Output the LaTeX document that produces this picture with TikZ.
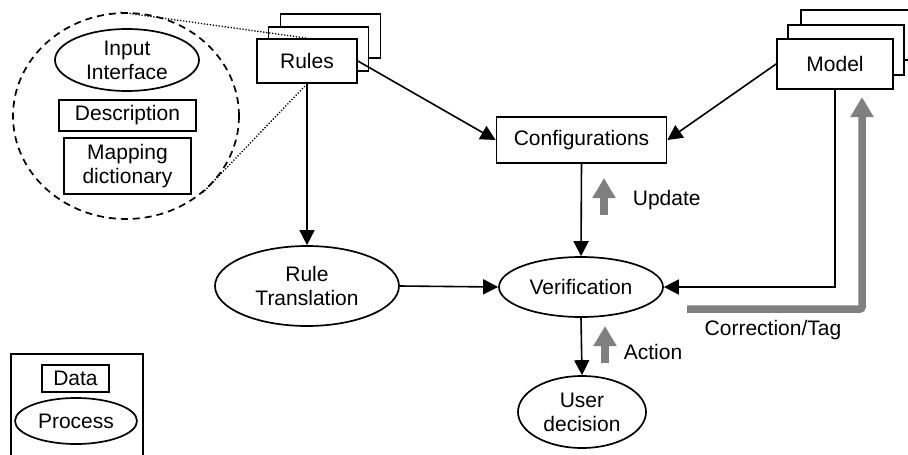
\documentclass[tikz,border=0pt]{standalone}
\usepackage{fontspec}
\setmainfont{Liberation Sans}
\usetikzlibrary{arrows.meta,shapes.geometric}

\begin{document}
\begin{tikzpicture}[x=1pt,y=-1pt,
    every node/.style={font=\fontsize{21}{24}\selectfont, align=center, inner sep=0pt, line width=1.7pt},
    data/.style={draw, fill=white, rectangle},
    proc/.style={draw, fill=white, ellipse},
    flow/.style={line width=1.6pt, -{Triangle[length=15pt,width=15pt]}},
    hint/.style={line width=7.5pt, draw=gray, -{Triangle[length=20pt,width=22pt]}}]
\useasboundingbox (0,0) rectangle (908,455);

% detail of the rules
\node[draw, ellipse, dash pattern=on 7pt off 5pt, minimum width=226pt, minimum height=206pt] (detail) at (126,116) {};
\node[proc, minimum width=144pt, minimum height=62pt] (input) at (127,60) {Input\\Interface};
\node[data, minimum width=137pt, minimum height=31pt] (desc) at (127.5,115.5) {Description};
\node[data, minimum width=127pt, minimum height=56pt] (mapdict) at (127.5,166) {Mapping\\dictionary};

% stacked data
\node[data, minimum width=100pt, minimum height=44pt] (rules3) at (330.5,36) {};
\node[data, minimum width=100pt, minimum height=44pt] (rules2) at (318.5,49) {};
\node[data, minimum width=100pt, minimum height=44pt] (rules) at (307,61) {Rules};
\node[data, minimum width=116pt, minimum height=50pt] (model3) at (859,35) {};
\node[data, minimum width=116pt, minimum height=50pt] (model2) at (846,50) {};
\node[data, minimum width=116pt, minimum height=50pt] (model) at (835,64) {Model};

\node[data, minimum width=170pt, minimum height=46pt] (config) at (581.5,140) {Configurations};
\node[proc, minimum width=184pt, minimum height=80pt] (ruletrans) at (307,286) {Rule\\Translation};
\node[proc, minimum width=164pt, minimum height=60pt] (verif) at (581,287) {Verification};
\node[proc, minimum width=128pt, minimum height=72pt] (user) at (582,412) {User\\decision};

\draw[line width=1.3pt, dash pattern=on 1.3pt off 1.7pt] (detail.93) -- (rules.north);
\draw[line width=1.3pt, dash pattern=on 1.3pt off 1.7pt] (rules.south) -- (detail.-45);

% main flow
\draw[flow] (rules.east) -- (config.west);
\draw[flow] (model.west) -- (config.east);
\draw[flow] (rules.south) -- (ruletrans.north);
\draw[flow] (config.south) -- (verif.north);
\draw[flow] (ruletrans.east) -- (verif.west);
\draw[flow] (verif.south) -- (user.north);
\draw[flow] (model.south) |- (verif.east);

% feedback
\coordinate (corrA) at (687,309);
\coordinate (corrB) at (862,97);
\draw[hint, rounded corners=2pt] (corrA) -| (corrB);
\node (corrlbl) at (773,330) {Correction/Tag};
\coordinate (updA) at (604,215);
\coordinate (updB) at (604,178);
\draw[hint] (updA) -- (updB);
\node[anchor=west] (updlbl) at (632,200) {Update};
\coordinate (actA) at (605,363);
\coordinate (actB) at (605,326);
\draw[hint] (actA) -- (actB);
\node[anchor=west] (actlbl) at (623,352) {Action};

% legend
\node[draw, anchor=north west, minimum width=132pt, minimum height=120pt] (legend) at (10,353) {};
\node[data, minimum width=67pt, minimum height=27pt] (legdata) at (75.5,378.5) {Data};
\node[proc, minimum width=122pt, minimum height=46pt] (legproc) at (76,421) {Process};
\end{tikzpicture}
\end{document}
